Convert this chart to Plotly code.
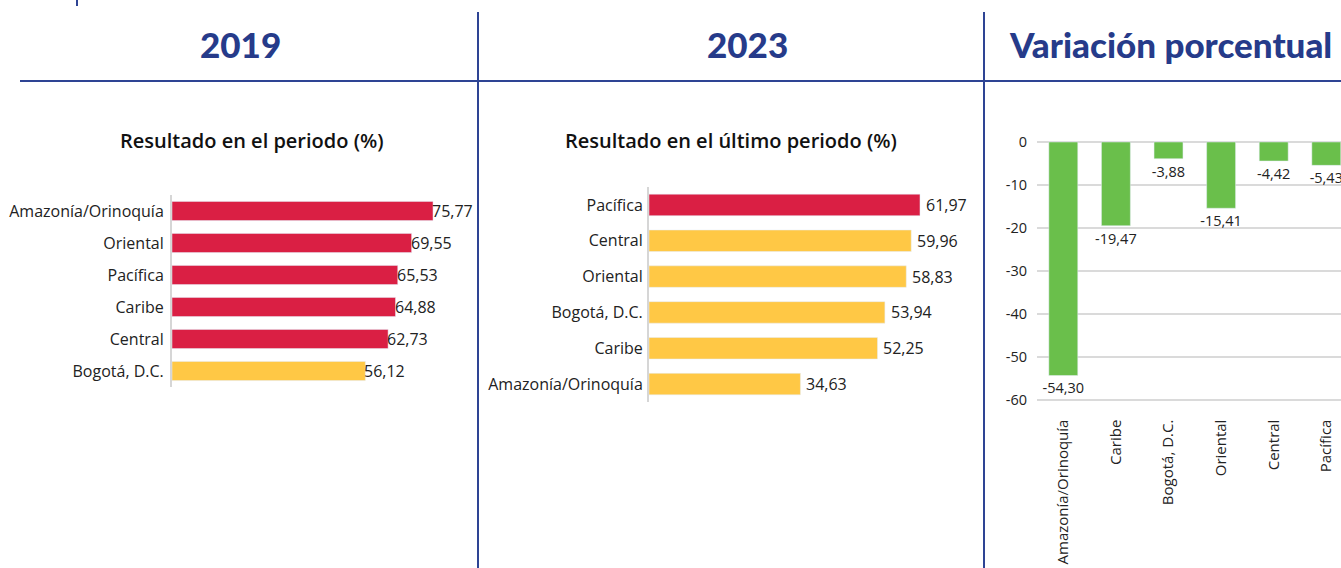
import plotly.graph_objects as go

# ---------------- data ----------------
cat_2019 = ["Amazonía/Orinoquía", "Oriental", "Pacífica", "Caribe", "Central", "Bogotá, D.C."]
val_2019 = [75.77, 69.55, 65.53, 64.88, 62.73, 56.12]

cat_2023 = ["Pacífica", "Central", "Oriental", "Bogotá, D.C.", "Caribe", "Amazonía/Orinoquía"]
val_2023 = [61.97, 59.96, 58.83, 53.94, 52.25, 34.63]

cat_var = ["Amazonía/Orinoquía", "Caribe", "Bogotá, D.C.", "Oriental", "Central", "Pacífica"]
val_var = [-54.30, -19.47, -3.88, -15.41, -4.42, -5.43]

var_ticks = [0, -10, -20, -30, -40, -50, -60]

titles = ["2019", "2023", "Variación porcentual"]
subtitles = ["Resultado en el periodo (%)", "Resultado en el último periodo (%)"]

# ---------------- style ----------------
W, H = 1341, 568
RED = "#DA1F44"
YEL = "#FFC845"
GRN = "#6ABF4B"
BLUE = "#263B8A"
LINE = "#2E4494"
TXT = "#222222"
FONT = "Open Sans"
TFONT = "Lato"

colors_2019 = [RED, RED, RED, RED, RED, YEL]
colors_2023 = [RED, YEL, YEL, YEL, YEL, YEL]


def fmt(v):
    return f"{v:.2f}".replace(".", ",")


def px(x):
    return x / W


def py(y):
    return 1 - y / H


fig = go.Figure()

fig.add_trace(go.Bar(
    x=val_2019, y=cat_2019, orientation="h", marker_color=colors_2019,
    xaxis="x", yaxis="y", hoverinfo="skip", showlegend=False,
))
fig.add_trace(go.Bar(
    x=val_2023, y=cat_2023, orientation="h", marker_color=colors_2023,
    xaxis="x2", yaxis="y2", hoverinfo="skip", showlegend=False,
))
fig.add_trace(go.Bar(
    x=cat_var, y=val_var, marker_color=GRN,
    text=[fmt(v) for v in val_var], textposition="outside",
    textfont=dict(family=FONT, size=14.5, color=TXT),
    constraintext="none", cliponaxis=True, width=0.55,
    xaxis="x3", yaxis="y3", hoverinfo="skip", showlegend=False,
))

annotations = []
for c, v in zip(cat_2019, val_2019):
    annotations.append(dict(x=v, y=c, xref="x", yref="y", text=fmt(v), showarrow=False,
                            xanchor="left", xshift=-3,
                            font=dict(family=FONT, size=16, color=TXT)))
for c, v in zip(cat_2023, val_2023):
    annotations.append(dict(x=v, y=c, xref="x2", yref="y2", text=fmt(v), showarrow=False,
                            xanchor="left", xshift=4,
                            font=dict(family=FONT, size=16, color=TXT)))

for t, cx, anchor in zip(titles, [240, 747, 1007], ["center", "center", "left"]):
    annotations.append(dict(x=px(cx), y=py(44), xref="paper", yref="paper", text=t,
                            showarrow=False, xanchor=anchor, yanchor="middle",
                            font=dict(family=TFONT, size=35, color=BLUE, weight=900)))
for t, cx in zip(subtitles, [252, 731]):
    annotations.append(dict(x=px(cx), y=py(140), xref="paper", yref="paper", text=t,
                            showarrow=False, xanchor="center", yanchor="middle",
                            font=dict(family=FONT, size=20, color="#111111", weight=600)))

shapes = [
    dict(type="line", xref="paper", yref="paper", x0=px(20), x1=1, y0=py(81), y1=py(81),
         line=dict(color=LINE, width=2)),
    dict(type="line", xref="paper", yref="paper", x0=px(478), x1=px(478), y0=py(12), y1=0,
         line=dict(color=LINE, width=2)),
    dict(type="line", xref="paper", yref="paper", x0=px(984), x1=px(984), y0=py(12), y1=0,
         line=dict(color=LINE, width=2)),
    dict(type="line", xref="paper", yref="paper", x0=px(77), x1=px(77), y0=1, y1=py(6),
         line=dict(color=LINE, width=2)),
]

cat_font = dict(family=FONT, size=16, color=TXT)

p1_x0, p1_x1 = 172, 474
p1_range = (p1_x1 - p1_x0) / 3.445
p2_x0, p2_x1 = 649, 975
p2_range = (p2_x1 - p2_x0) / 4.373
p3_top = 142 - 2 * 4.3
p3_bot = 400 + 2 * 4.3
p3_x0 = 1037
band = 52.6
p3_xmax = -0.5 + (W - p3_x0) / band

fig.update_layout(
    width=W, height=H,
    margin=dict(l=0, r=0, t=0, b=0),
    paper_bgcolor="white", plot_bgcolor="white",
    font=dict(family=FONT, color=TXT),
    bargap=0.4,
    annotations=annotations,
    shapes=shapes,
    xaxis=dict(domain=[px(p1_x0), px(p1_x1)], range=[0, p1_range], visible=False, fixedrange=True),
    yaxis=dict(domain=[py(387), py(195)], autorange="reversed", type="category",
               showline=True, linecolor="#D6D6D6", linewidth=2, ticks="", showgrid=False,
               tickfont=cat_font, ticklabelstandoff=3, anchor="x"),
    xaxis2=dict(domain=[px(p2_x0), px(p2_x1)], range=[0, p2_range], visible=False, fixedrange=True),
    yaxis2=dict(domain=[py(402), py(187)], autorange="reversed", type="category",
                showline=True, linecolor="#D6D6D6", linewidth=2, ticks="", showgrid=False,
                tickfont=cat_font, ticklabelstandoff=1, anchor="x2"),
    xaxis3=dict(domain=[px(p3_x0), 1], range=[-0.5, p3_xmax], type="category",
                tickangle=-90, tickfont=dict(family=FONT, size=15, color=TXT),
                ticks="", showline=False, showgrid=False, anchor="y3", ticklabelstandoff=7),
    yaxis3=dict(domain=[py(p3_bot), py(p3_top)], range=[-62, 2],
                tickvals=var_ticks, ticktext=[str(v) for v in var_ticks],
                tickfont=dict(family=FONT, size=14.5, color=TXT),
                showgrid=True, gridcolor="#DADADA", gridwidth=1.5,
                zeroline=False, showline=False, ticks="", anchor="x3", ticklabelstandoff=9),
)

fig.write_html("out.html", config={"displayModeBar": False},
               post_script="document.body.style.margin='0';document.body.style.overflow='hidden';")
